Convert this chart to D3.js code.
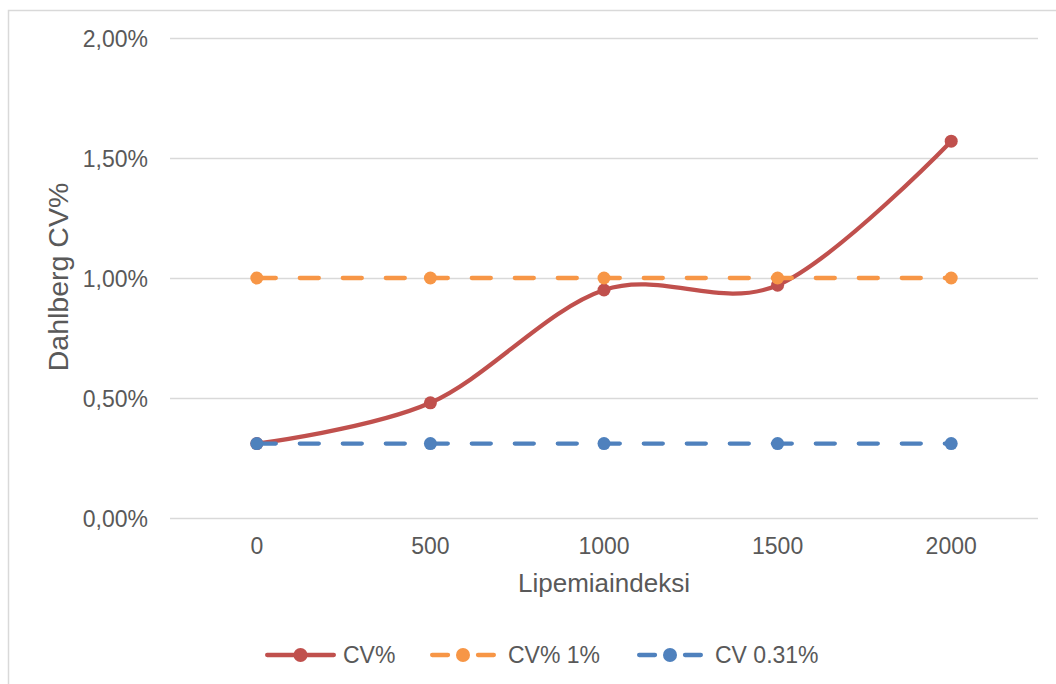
<!DOCTYPE html>
<html>
<head>
<meta charset="utf-8">
<script src="https://cdn.jsdelivr.net/npm/d3@7/dist/d3.min.js"></script>
<style>
  html, body { margin: 0; padding: 0; background: #fff; }
  svg { display: block; font-family: "Liberation Sans", Arial, sans-serif; }
</style>
</head>
<body>
<svg id="chart" width="1056" height="684"></svg>
<script>
// Lipemia index categories and Dahlberg CV% values (in %)
const categories = ["0", "500", "1000", "1500", "2000"];
const cvValues = [0.31, 0.48, 0.95, 0.97, 1.57];
const limit1Values = [1.00, 1.00, 1.00, 1.00, 1.00];
const limit031Values = [0.31, 0.31, 0.31, 0.31, 0.31];
const yTicks = [0, 0.5, 1.0, 1.5, 2.0];
const seriesNames = ["CV%", "CV% 1%", "CV 0.31%"];

const series = [
  { name: seriesNames[0], values: cvValues, color: "#C0504D", dashed: false, smooth: true },
  { name: seriesNames[1], values: limit1Values, color: "#F79646", dashed: true, smooth: false },
  { name: seriesNames[2], values: limit031Values, color: "#4F81BD", dashed: true, smooth: false }
];

const svg = d3.select("#chart");
const textColor = "#595959";
const gridColor = "#D9D9D9";

// Chart frame
svg.append("rect")
  .attr("x", 8.5).attr("y", 10.5)
  .attr("width", 1200).attr("height", 800)
  .attr("fill", "none").attr("stroke", gridColor).attr("stroke-width", 1.5);

const plot = { left: 170, right: 1038, top: 38, bottom: 518 };

const x = d3.scaleBand().domain(categories).range([plot.left, plot.right]);
const xc = c => x(c) + x.bandwidth() / 2;
const y = d3.scaleLinear().domain([0, 2]).range([plot.bottom, plot.top]);

const fmt = v => v.toFixed(2).replace(".", ",") + "%";

// Horizontal gridlines and Y axis labels
const yAxis = d3.axisLeft(y).tickValues(yTicks).tickFormat(fmt)
  .tickSize(-(plot.right - plot.left)).tickPadding(22);
const gy = svg.append("g").attr("transform", `translate(${plot.left},0)`).call(yAxis);
gy.select(".domain").remove();
gy.selectAll(".tick line").attr("stroke", gridColor).attr("stroke-width", 1.5);
gy.selectAll(".tick text")
  .attr("fill", textColor).attr("font-size", 23)
  .attr("font-family", "Liberation Sans, Arial, sans-serif")
  .attr("dy", "0.36em");

// X axis labels
const xAxis = d3.axisBottom(x).tickSize(0).tickPadding(20);
const gx = svg.append("g").attr("transform", `translate(0,${plot.bottom})`).call(xAxis);
gx.select(".domain").remove();
gx.selectAll(".tick text")
  .attr("fill", textColor).attr("font-size", 23)
  .attr("font-family", "Liberation Sans, Arial, sans-serif")
  .attr("dy", "0.71em");

// Axis titles
svg.append("text")
  .attr("x", (plot.left + plot.right) / 2).attr("y", 592)
  .attr("text-anchor", "middle").attr("fill", textColor).attr("font-size", 26)
  .text("Lipemiaindeksi");

svg.append("text")
  .attr("transform", `translate(68,${(plot.top + plot.bottom) / 2 - 1}) rotate(-90)`)
  .attr("text-anchor", "middle").attr("fill", textColor).attr("font-size", 28.5)
  .text("Dahlberg CV%");

// Series lines and markers
const lineW = 4.3;
series.forEach(s => {
  const line = d3.line()
    .x((d, i) => xc(categories[i]))
    .y(d => y(d))
    .curve(s.smooth ? d3.curveCardinal.tension(0) : d3.curveLinear);
  svg.append("path")
    .datum(s.values)
    .attr("d", line)
    .attr("fill", "none")
    .attr("stroke", s.color)
    .attr("stroke-width", lineW)
    .attr("stroke-linecap", "round")
    .attr("stroke-linejoin", "round")
    .attr("stroke-dasharray", s.dashed ? "19,24" : null);
  svg.append("g").selectAll("circle")
    .data(s.values)
    .join("circle")
    .attr("cx", (d, i) => xc(categories[i]))
    .attr("cy", d => y(d))
    .attr("r", 6.5)
    .attr("fill", s.color);
});

// Legend
const legendY = 655;
const legendItems = [
  { x0: 265, x1: 336, tx: 343 },
  { x0: 430, x1: 496, tx: 508 },
  { x0: 637, x1: 703, tx: 715 }
];
series.forEach((s, i) => {
  const it = legendItems[i];
  const g = svg.append("g");
  const len = it.x1 - it.x0 - lineW;
  const gap = 30;
  const dash = s.dashed ? `${(len - gap) / 2},${gap},${(len - gap) / 2}` : null;
  g.append("line")
    .attr("x1", it.x0 + lineW / 2).attr("x2", it.x1 - lineW / 2)
    .attr("y1", legendY).attr("y2", legendY)
    .attr("stroke", s.color).attr("stroke-width", lineW)
    .attr("stroke-linecap", "round")
    .attr("stroke-dasharray", dash);
  g.append("circle")
    .attr("cx", (it.x0 + it.x1) / 2).attr("cy", legendY).attr("r", 7)
    .attr("fill", s.color);
  g.append("text")
    .attr("x", it.tx).attr("y", legendY + 8)
    .attr("fill", textColor).attr("font-size", 23)
    .text(s.name);
});
</script>
</body>
</html>
